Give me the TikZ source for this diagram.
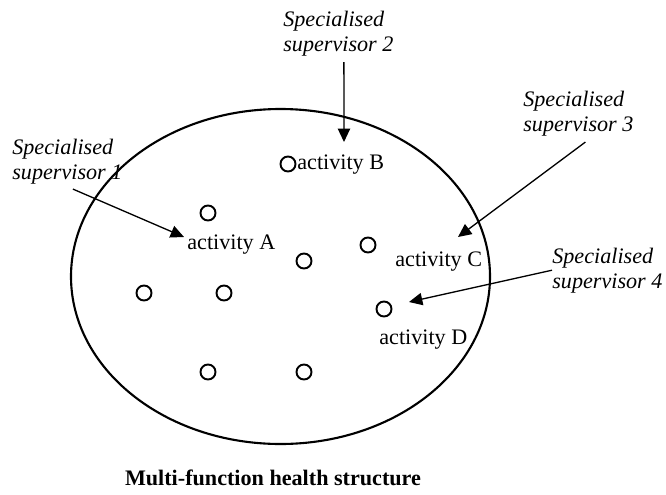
\documentclass[tikz,border=0pt]{standalone}
\usepackage{fontspec}
\setmainfont{Liberation Serif}
\usetikzlibrary{arrows.meta,positioning,calc}
\newcommand\actdot[2]{%
    \node [dot] (#1) at #2 {}}
\newcommand\supervisor[3]{%
    \node [super] (#1) at #2 {Specialised\\supervisor #3}}
\tikzset{
    dot/.style={draw=black, circle, line width=1.1pt, minimum size=0.3cm, inner sep=0pt},
    super/.style={align=left, anchor=base west, inner sep=0pt, font=\fontsize{12.6}{14.2}\selectfont\itshape},
    act/.style={anchor=base west, inner sep=0pt},
    arr/.style={-{Triangle[length=7.6pt,width=7pt]}, line width=0.75pt}
}

\begin{document}
\begin{tikzpicture}[x=0.02cm, y=-0.02cm, font=\fontsize{12.6}{14.2}\selectfont]
            \useasboundingbox (0,0) rectangle (666,494);
            \draw [line width=1.2pt] (280.5,276.5) ellipse [x radius=209.5, y radius=167.5];
            \actdot{dotB}{(288,164)};
            \actdot{dotA}{(208,213)};
            \actdot{dotE}{(304,261)};
            \actdot{dotC}{(368,245)};
            \actdot{dotF}{(144,293)};
            \actdot{dotG}{(224,293)};
            \actdot{dotD}{(384,309)};
            \actdot{dotH}{(208,372)};
            \actdot{dotI}{(304,372)};
            \node [act] (actB) at (297,169) {activity B};
            \node [act] (actA) at (187,249) {activity A};
            \node [act] (actC) at (395,266) {activity C};
            \node [act] (actD) at (379,344) {activity D};
            \supervisor{sup1}{(12,179)}{1};
            \supervisor{sup2}{(283,51)}{2};
            \supervisor{sup3}{(523,131)}{3};
            \supervisor{sup4}{(552,288)}{4};
            \coordinate (tipA) at (184,237);
            \coordinate (tipB) at (344,142);
            \coordinate (tipC) at (458,237);
            \coordinate (tipD) at (409,302);
            \draw [arr] ($(sup1.south)+(5.5,5)$) -- (tipA);
            \draw [arr] ($(sup2.south)+(5.5,6)$) -- (tipB);
            \draw [arr] ($(sup3.south)+(7,6)$) -- (tipC);
            \draw [arr] (sup4.west) -- (tipD);
            \node [font=\fontsize{12.6}{14.2}\selectfont\bfseries, anchor=base] (title) at (273,485) {Multi-function health structure};
        \end{tikzpicture}
\end{document}
